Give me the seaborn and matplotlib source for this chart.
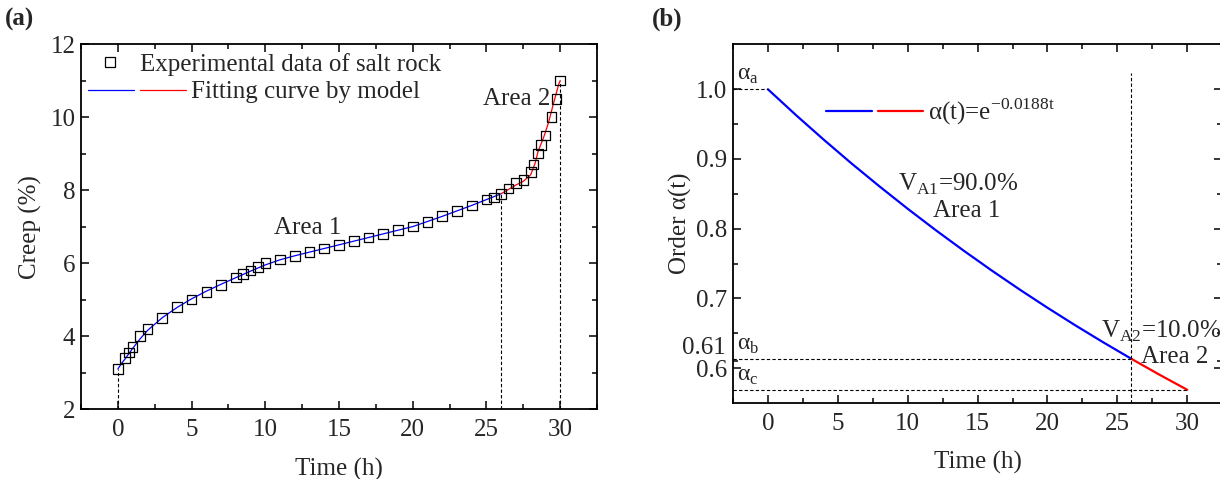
import matplotlib
matplotlib.use("Agg")
import matplotlib.pyplot as plt
from matplotlib.lines import Line2D
from matplotlib.legend_handler import HandlerTuple
from matplotlib.ticker import MultipleLocator, FixedLocator
import seaborn as sns

# creep test data (panel a)
creep_t = [0, 0.5, 0.75, 1, 1.5, 2, 3, 4, 5, 6, 7, 8, 8.5, 9, 9.5, 10,
           11, 12, 13, 14, 15, 16, 17, 18, 19, 20, 21, 22, 23, 24, 25,
           25.5, 26, 26.5, 27, 27.5, 28, 28.2, 28.5, 28.7, 29, 29.4, 29.75, 30]
creep = [3.1, 3.4, 3.55, 3.7, 4.0, 4.2, 4.5, 4.8, 5.0, 5.2, 5.4, 5.6, 5.7, 5.8, 5.9, 6.0,
         6.1, 6.2, 6.3, 6.4, 6.5, 6.6, 6.7, 6.8, 6.9, 7.0, 7.13, 7.29, 7.43, 7.58, 7.74,
         7.8, 7.9, 8.04, 8.2, 8.28, 8.5, 8.7, 9.0, 9.24, 9.5, 10.0, 10.5, 11.0]

# fitted curve, area 1 (blue) and area 2 (red)
fit1_t = [0, 0.25, 0.5, 1, 1.5, 2, 3, 4, 5, 6, 7, 8, 9, 10, 11, 12, 14, 16, 18, 20, 22, 24, 25, 26]
fit1_c = [3.1, 3.25, 3.38, 3.66, 3.92, 4.15, 4.5, 4.78, 5.02, 5.23, 5.42, 5.6, 5.78, 5.95,
          6.09, 6.2, 6.4, 6.6, 6.8, 7.0, 7.28, 7.58, 7.74, 7.9]
fit2_t = [26, 26.5, 27, 27.5, 28, 28.3, 28.5, 28.9, 29.2, 29.55, 29.9, 30]
fit2_c = [7.9, 8.02, 8.14, 8.24, 8.42, 8.74, 9.06, 9.47, 9.84, 10.38, 10.9, 11.0]

# order alpha(t) (panel b)
order1_t = [0, 2, 4, 6, 8, 10, 12, 14, 16, 18, 20, 22, 24, 26]
order1 = [1.0, 0.9631, 0.9276, 0.8933, 0.8604, 0.8286, 0.7980, 0.7686, 0.7402,
          0.7129, 0.6866, 0.6613, 0.6369, 0.6134]
order2_t = [26, 28, 30]
order2 = [0.6134, 0.5907, 0.5689]

sns.set_theme(style="ticks")
plt.rcParams["font.family"] = ["Liberation Serif", "DejaVu Serif"]
plt.rcParams["mathtext.fontset"] = "custom"
plt.rcParams["mathtext.rm"] = "Liberation Serif"
plt.rcParams["axes.linewidth"] = 1.3
plt.rcParams["xtick.direction"] = "in"
plt.rcParams["ytick.direction"] = "in"

fs = 18
fig = plt.figure(figsize=(12.2, 4.79), dpi=100)
ax1 = fig.add_axes([0.0664, 0.146, 0.4230, 0.762])
ax2 = fig.add_axes([0.6008, 0.1587, 0.4010, 0.7495])

dash = dict(color="black", lw=0.8, ls=(0, (3, 2)))


def style_axis(ax):
    ax.tick_params(which="both", top=True, right=True, labelsize=fs, color="black", width=1.1)
    ax.tick_params(which="major", length=6)
    ax.tick_params(which="minor", length=3.5)
    ax.tick_params(axis="x", which="major", pad=7)
    ax.tick_params(axis="y", which="major", pad=4)
    for s in ax.spines.values():
        s.set_color("black")


# ---- panel (a)
sns.lineplot(x=fit1_t, y=fit1_c, ax=ax1, color="#0000ff", lw=0.9, sort=False)
sns.lineplot(x=fit2_t, y=fit2_c, ax=ax1, color="#ff0000", lw=0.9, sort=False)
sns.scatterplot(x=creep_t, y=creep, ax=ax1, marker="s", s=48, facecolor="none",
                edgecolor="black", linewidth=0.9, zorder=3)
for i in (0, creep_t.index(26), len(creep_t) - 1):
    ax1.vlines(creep_t[i], 2, creep[i], **dash)

ax1.set_xlim(-2.5, 32.5)
ax1.set_ylim(2, 12)
ax1.xaxis.set_major_locator(MultipleLocator(5))
ax1.xaxis.set_minor_locator(MultipleLocator(2.5))
ax1.yaxis.set_major_locator(MultipleLocator(2))
ax1.yaxis.set_minor_locator(MultipleLocator(1))
style_axis(ax1)
ax1.set_xlabel("Time (h)", fontsize=fs, labelpad=12)
ax1.set_ylabel("Creep (%)", fontsize=fs, labelpad=6)
ax1.text(12.9, 6.95, "Area 1", fontsize=fs, ha="center", va="center")
ax1.text(29.3, 10.5, "Area 2", fontsize=fs, ha="right", va="center")

sq = Line2D([], [], marker="s", ls="none", mfc="none", mec="black", ms=7, mew=0.9)
leg1 = ax1.legend([sq], ["Experimental data of salt rock"], loc="center left",
                  bbox_to_anchor=(0.019, 0.945), frameon=False, fontsize=fs,
                  handlelength=1.5, handletextpad=0.45, borderpad=0, borderaxespad=0)
ax1.add_artist(leg1)
lb = Line2D([], [], color="#0000ff", lw=0.9)
lr = Line2D([], [], color="#ff0000", lw=0.9)
ax1.legend([(lb, lr)], ["Fitting curve by model"], loc="center left",
           bbox_to_anchor=(0.0136, 0.868), frameon=False, fontsize=fs,
           handler_map={tuple: HandlerTuple(ndivide=None, pad=0.25)},
           handlelength=3.9, handletextpad=0.2, borderpad=0, borderaxespad=0)

# ---- panel (b)
sns.lineplot(x=order1_t, y=order1, ax=ax2, color="#0000ff", lw=1.6, sort=False)
sns.lineplot(x=order2_t, y=order2, ax=ax2, color="#ff0000", lw=1.6, sort=False)
ax2.set_xlim(-2.5, 32.5)
ax2.set_ylim(0.55, 1.065)
ax2.vlines(order1_t[-1], 0.55, 1.023, **dash)
ax2.hlines(order1[0], -2.5, order1_t[0], **dash)
ax2.hlines(order1[-1], -2.5, order1_t[-1], **dash)
ax2.hlines(order2[-1], -2.5, order2_t[-1], **dash)

ax2.xaxis.set_major_locator(MultipleLocator(5))
ax2.xaxis.set_minor_locator(MultipleLocator(2.5))
ax2.yaxis.set_major_locator(FixedLocator([0.6, 0.7, 0.8, 0.9, 1.0]))
ax2.set_yticklabels(["0.6", "0.7", "0.8", "0.9", "1.0"])
ax2.yaxis.set_minor_locator(FixedLocator([0.61, 0.65, 0.75, 0.85, 0.95]))
style_axis(ax2)
ax2.set_xlabel("Time (h)", fontsize=fs, labelpad=12)
ax2.set_ylabel("Order α(t)", fontsize=fs, labelpad=3)
# label of alpha_b level, set a little above its tick as in the original
ax2.text(-0.015, order1[-1] + 0.016, "0.61", fontsize=fs, ha="right", va="center",
         transform=ax2.get_yaxis_transform())

ax2.text(-2.2, 1.004, "α$_{\\mathregular{a}}$", fontsize=fs - 1, ha="left", va="bottom")
ax2.text(-2.2, 0.618, "α$_{\\mathregular{b}}$", fontsize=fs - 1, ha="left", va="bottom")
ax2.text(-2.2, 0.573, "α$_{\\mathregular{c}}$", fontsize=fs - 1, ha="left", va="bottom")
ax2.text(9.3, 0.863, "V$_{\\mathregular{A1}}$=90.0%", fontsize=fs, ha="left", va="center")
ax2.text(14.2, 0.826, "Area 1", fontsize=fs, ha="center", va="center")
ax2.text(23.8, 0.652, "V$_{\\mathregular{A2}}$=10.0%", fontsize=fs, ha="left", va="center")
ax2.text(29.1, 0.616, "Area 2", fontsize=fs, ha="center", va="center")

lb2 = Line2D([], [], color="#0000ff", lw=1.6)
lr2 = Line2D([], [], color="#ff0000", lw=1.6)
ax2.legend([(lb2, lr2)], ["α(t)=e$^{\\mathregular{-0.0188t}}$"], loc="center left",
           bbox_to_anchor=(0.19, 0.812), frameon=False, fontsize=fs,
           handler_map={tuple: HandlerTuple(ndivide=None, pad=0.25)},
           handlelength=3.9, handletextpad=0.2, borderpad=0, borderaxespad=0)

fig.text(0.004, 0.96, "(a)", fontsize=fs, fontweight="bold", ha="left", va="center")
fig.text(0.534, 0.96, "(b)", fontsize=fs, fontweight="bold", ha="left", va="center")

fig.savefig("out.png", dpi=100)
